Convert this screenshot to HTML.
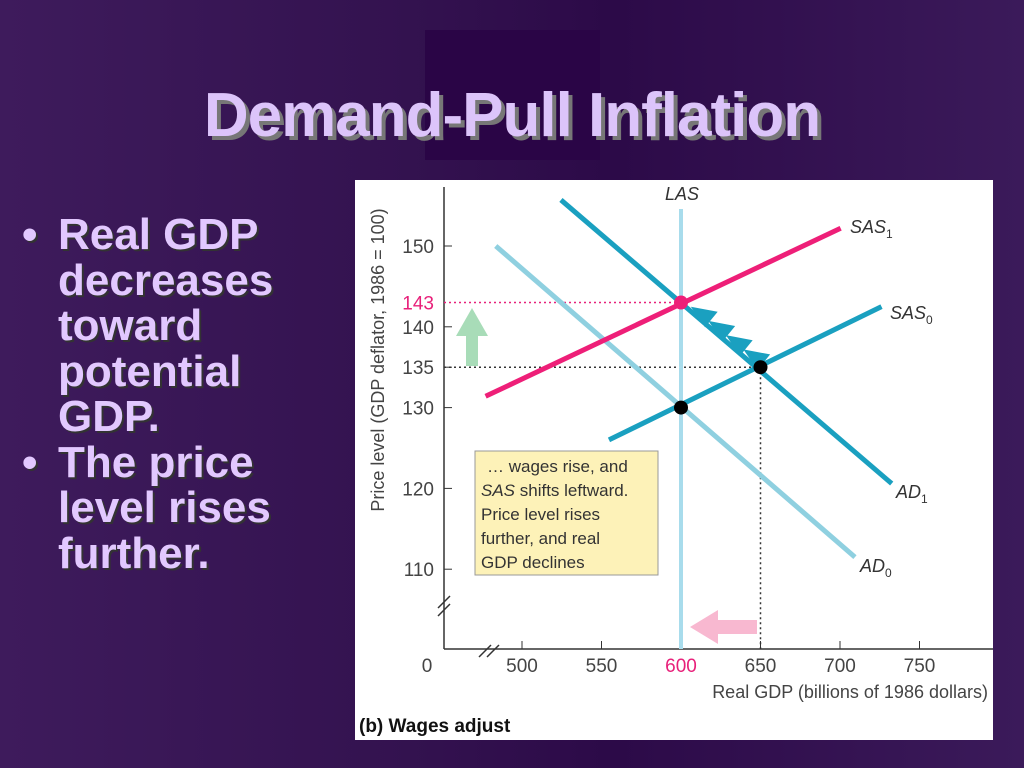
<!DOCTYPE html>
<html><head><meta charset="utf-8"><style>
body{margin:0;width:1024px;height:768px;overflow:hidden;background:linear-gradient(90deg,#3e1b5c 0%,#33124f 40%,#2c0a48 60%,#3b1a5a 100%);font-family:"Liberation Sans",Arial,sans-serif;position:relative}
#hl{position:absolute;left:425px;top:30px;width:175px;height:130px;background:#2a0546}
#title{position:absolute;left:0;width:1024px;top:80px;text-align:center;font-size:62px;font-weight:bold;color:#dcc4fa;text-shadow:4px 4px 0 #777;letter-spacing:-1px}
#bul{position:absolute;left:22px;top:212px;color:#e2c8ff;font-size:44px;font-weight:bold;line-height:45.5px;text-shadow:2px 2px 0 #333}
.b{position:relative;padding-left:36px}
.b span{position:absolute;left:0}
#chart{position:absolute;left:355px;top:180px;width:638px;height:560px;background:#fff}
</style></head><body>
<div id="hl"></div>
<div id="title">Demand-Pull Inflation</div>
<div id="bul">
<div class="b"><span>•</span>Real GDP<br>decreases<br>toward<br>potential<br>GDP.</div>
<div class="b"><span>•</span>The price<br>level rises<br>further.</div>
</div>
<svg id="chart" width="638" height="560" viewBox="355 180 638 560" xmlns="http://www.w3.org/2000/svg" font-family="Liberation Sans, Arial, sans-serif"></svg>
<script>
const xTicks=[500,550,600,650,700,750];
const yTicks=[110,120,130,135,140,143,150];
const curveNames=['AD0','AD1','SAS0','SAS1'];
const curveX0=[483.5,524.5,554.7,477.1];
const curveY0=[150,155.7,126,131.4];
const curveX1=[709.4,732.5,726.1,700.4];
const curveY1=[111.5,120.6,142.5,152.2];
const lasX=600;
const eqX=[600,650,600];
const eqY=[130,135,143];
const X=v=>522+(v-500)*1.59;
const Y=v=>246+(150-v)*8.08;
const svg=document.getElementById('chart');
const NS='http://www.w3.org/2000/svg';
function mk(t,a,txt){const e=document.createElementNS(NS,t);for(const k in a)e.setAttribute(k,a[k]);if(txt!=null)e.textContent=txt;svg.appendChild(e);return e;}
let e;
e=mk('line',{x1:444,y1:187,x2:444,y2:649,stroke:'#333','stroke-width':1.5});


e=mk('line',{x1:444,y1:649,x2:993,y2:649,stroke:'#333','stroke-width':1.5});


e=mk('path',{d:'M438,608 L450,596 M438,616 L450,604 M479,657 L491,645 M487,657 L499,645',stroke:'#333','stroke-width':1.5,fill:'none'});


xTicks.forEach(v=>{
 e=mk('line',{x1:X(v),y1:649,x2:X(v),y2:641,stroke:'#333'});
 
 
 e=mk('text',{x:X(v),y:672,'text-anchor':'middle','font-size':19,fill:v===600?'#e8207a':'#444'},String(v));
 
 
});
yTicks.forEach(v=>{
 if(v!==143){e=mk('line',{x1:444,y1:Y(v),x2:452,y2:Y(v),stroke:'#333'});
 
 }
 e=mk('text',{x:434,y:Y(v)+7,'text-anchor':'end','font-size':19,fill:v===143?'#e8207a':'#444'},String(v));
 
 
});
e=mk('text',{x:427,y:672,'text-anchor':'middle','font-size':19,fill:'#444'},'0');


e=mk('line',{x1:444,y1:Y(143),x2:X(600),y2:Y(143),stroke:'#e8207a','stroke-dasharray':'2,3','stroke-width':1.5});


e=mk('line',{x1:444,y1:Y(135),x2:X(650),y2:Y(135),stroke:'#333','stroke-dasharray':'2,3','stroke-width':1.5});


e=mk('line',{x1:X(650),y1:Y(135),x2:X(650),y2:649,stroke:'#333','stroke-dasharray':'2,3','stroke-width':1.5});


e=mk('line',{x1:X(lasX),y1:209,x2:X(lasX),y2:649,stroke:'#a8dcec','stroke-width':4});


const colors=['#8fd0e0','#1aa0c0','#1aa0c0','#ee1f78'];
curveNames.forEach((n,i)=>{
 e=mk('line',{x1:X(curveX0[i]),y1:Y(curveY0[i]),x2:X(curveX1[i]),y2:Y(curveY1[i]),stroke:colors[i],'stroke-width':5});
 
 
});
const ax0=X(600),ay0=Y(143),ax1=X(650),ay1=Y(135);
const L=Math.hypot(ax1-ax0,ay1-ay0),ux=(ax0-ax1)/L,uy=(ay0-ay1)/L,nx=-uy,ny=ux;
for(let k=0;k<4;k++){
 const t=0.1+k*0.22;
 const tx=ax0+(ax1-ax0)*t+nx*3, ty=ay0+(ay1-ay0)*t+ny*3;
 const bx=tx-ux*24, by=ty-uy*24;
 e=mk('polygon',{points:`${tx},${ty} ${bx+nx*13},${by+ny*13} ${bx-nx*7},${by-ny*7}`,fill:'#1aa0c0'});
 
 
}
eqX.forEach((v,i)=>{
 e=mk('circle',{cx:X(v),cy:Y(eqY[i]),r:7,fill:i===2?'#ee1f78':'#000'});
 
 
});
e=mk('polygon',{points:'466,366 478,366 478,336 488,336 472,308 456,336 466,336',fill:'#a8dcb8'});


e=mk('polygon',{points:'757,620 718,620 718,610 690,627 718,644 718,634 757,634',fill:'#f8b8d0'});


e=mk('rect',{x:475,y:451,width:183,height:124,fill:'#fdf2b8',stroke:'#999'});


const lines=['… wages rise, and','SAS shifts leftward.','Price level rises','further, and real','GDP declines'];
lines.forEach((l,i)=>{
 e=mk('text',{x:i===0?487:481,y:472+i*24,'font-size':17,fill:'#333'});
 if(i===1){const s=document.createElementNS(NS,'tspan');s.setAttribute('font-style','italic');s.textContent='SAS';e.appendChild(s);e.appendChild(document.createTextNode(' shifts leftward.'));}
 else e.textContent=l;
 
 
});
function lab(x,y,main,sub,name){
 e=mk('text',{x:x,y:y,'font-size':18,'font-style':'italic',fill:'#333'});
 e.textContent=main;
 if(sub){const s=document.createElementNS(NS,'tspan');s.setAttribute('font-size',12);s.setAttribute('dy',5);s.setAttribute('font-style','normal');s.textContent=sub;e.appendChild(s);}
 
 
}
lab(665,200,'LAS','', 'las-label');
lab(850,233,'SAS','1','sas1-label');
lab(890,319,'SAS','0','sas0-label');
lab(896,498,'AD','1','ad1-label');
lab(860,572,'AD','0','ad0-label');
e=mk('text',{x:988,y:698,'text-anchor':'end','font-size':18,fill:'#444'},'Real GDP (billions of 1986 dollars)');


e=mk('text',{x:0,y:0,'text-anchor':'middle','font-size':18,fill:'#444',transform:'translate(384,360) rotate(-90)'},'Price level (GDP deflator, 1986 = 100)');


e=mk('text',{x:359,y:732,'font-size':19,'font-weight':'bold',fill:'#111'},'(b) Wages adjust');


</script>
</body></html>
